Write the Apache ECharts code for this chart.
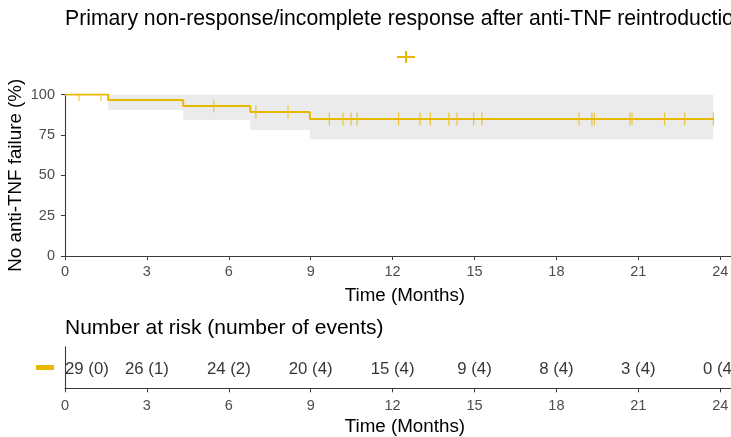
<!DOCTYPE html>
<html>
<head>
<meta charset="utf-8">
<title>Kaplan-Meier: anti-TNF reintroduction</title>
<script src="https://cdn.jsdelivr.net/npm/echarts@6/dist/echarts.min.js"></script>
<style>
  html, body { margin: 0; padding: 0; background: #ffffff; }
  #chart { width: 731px; height: 437px; }
</style>
</head>
<body>
<div id="chart"></div>
<script>
// Kaplan-Meier estimate (percent without anti-TNF failure) at each step
const kmTime = [0, 1.58, 4.33, 6.79, 8.97, 23.75];
const kmSurv = [100, 96.55, 92.84, 89.13, 84.88, 84.88];

// 95% confidence band, one rectangle per step interval
const bandStart = [1.58, 4.33, 6.79, 8.97];
const bandEnd = [4.33, 6.79, 8.97, 23.75];
const bandLower = [90.4, 84.2, 78.0, 72.3];
const bandUpper = [100, 100, 100, 100];

// Censored observations (time in months, curve level at that time)
const censorTime = [0.51, 1.32, 5.45, 6.99, 8.17, 9.68, 10.18, 10.48, 10.70,
  12.22, 13.01, 13.38, 14.06, 14.36, 14.97, 15.27, 18.83, 19.30, 19.39,
  20.69, 20.77, 21.96, 22.70, 23.75];
const censorSurv = [100, 100, 92.84, 89.13, 89.13, 84.88, 84.88, 84.88, 84.88,
  84.88, 84.88, 84.88, 84.88, 84.88, 84.88, 84.88, 84.88, 84.88, 84.88,
  84.88, 84.88, 84.88, 84.88, 84.88];

// Number at risk table
const riskTime = [0, 3, 6, 9, 12, 15, 18, 21, 24];
const riskN = [29, 26, 24, 20, 15, 9, 8, 3, 0];
const riskEvents = [0, 1, 2, 4, 4, 4, 4, 4, 4];

const yTicks = [0, 25, 50, 75, 100];
const strataName = 'All';

const COLOR = '#E7B800';
const AXIS = '#3a3a3a';
const TICKLAB = '#4D4D4D';
const FONT = '"Liberation Sans", Arial, sans-serif';

const PX_PER_MONTH = 27.3;
const X_MAX = 24.9;

const chart = echarts.init(document.getElementById('chart'), null, { renderer: 'canvas' });

function timeAxis(gridIndex, labelMargin, nameGap) {
  return {
    gridIndex: gridIndex,
    type: 'value', min: 0, max: X_MAX, interval: 3,
    axisLine: { show: true, lineStyle: { color: AXIS, width: 1.1 } },
    axisTick: { show: true, length: 4, lineStyle: { color: AXIS } },
    splitLine: { show: false },
    axisLabel: {
      color: TICKLAB, fontSize: 14.5, fontFamily: FONT, margin: labelMargin,
      formatter: v => (v % 3 === 0 ? String(v) : '')
    },
    name: 'Time (Months)', nameLocation: 'middle', nameGap: nameGap,
    nameMoveOverlap: false,
    nameTextStyle: { color: '#000', fontSize: 18.8, fontFamily: FONT }
  };
}

const option = {
  animation: false,
  backgroundColor: '#ffffff',
  title: [
    {
      text: 'Primary non-response/incomplete response after anti-TNF reintroduction',
      left: 65, top: 9, padding: 0,
      textStyle: { color: '#000', fontSize: 21.2, fontWeight: 'normal', fontFamily: FONT }
    },
    {
      text: 'Number at risk (number of events)',
      left: 65, top: 318, padding: 0,
      textStyle: { color: '#000', fontSize: 21, fontWeight: 'normal', fontFamily: FONT }
    }
  ],
  legend: {
    show: true, left: 397, top: 51, padding: 0,
    itemWidth: 18, itemHeight: 12, itemGap: 0,
    icon: 'path://M0,5H18V7H0Z M8,0H10V12H8Z',
    formatter: () => '',
    textStyle: { fontSize: 1 },
    data: [strataName],
    selectedMode: false
  },
  grid: [
    { left: 65, top: 94.5, width: X_MAX * PX_PER_MONTH, height: 161.5, outerBoundsMode: 'none', containLabel: false },
    { left: 65, top: 346.7, width: X_MAX * PX_PER_MONTH, height: 41.6, outerBoundsMode: 'none', containLabel: false }
  ],
  xAxis: [
    timeAxis(0, 8, 30),
    timeAxis(1, 10, 29)
  ],
  yAxis: [
    {
      gridIndex: 0, type: 'value', min: 0, max: 100, interval: 25,
      axisLine: { show: true, lineStyle: { color: AXIS, width: 1.1 } },
      axisTick: { show: true, length: 4, lineStyle: { color: AXIS } },
      splitLine: { show: false },
      axisLabel: {
        color: TICKLAB, fontSize: 14.5, fontFamily: FONT, margin: 10,
        formatter: v => (yTicks.includes(v) ? String(v) : '')
      },
      name: 'No anti-TNF failure (%)', nameLocation: 'middle', nameGap: 40,
      nameMoveOverlap: false,
      nameTextStyle: { color: '#000', fontSize: 18.8, fontFamily: FONT }
    },
    {
      gridIndex: 1, type: 'category', data: [strataName],
      axisLine: { show: true, lineStyle: { color: AXIS, width: 1.1 } },
      axisTick: { show: false },
      axisLabel: {
        margin: 11,
        formatter: () => '{bar|}',
        rich: { bar: { backgroundColor: COLOR, width: 18, height: 5 } }
      }
    }
  ],
  series: [
    {
      // confidence band
      type: 'custom', xAxisIndex: 0, yAxisIndex: 0, clip: true, silent: true,
      encode: { x: [0, 1], y: [2, 3] },
      data: bandStart.map((s, i) => [s, bandEnd[i], bandLower[i], bandUpper[i]]),
      renderItem: (params, api) => {
        const p0 = api.coord([api.value(0), api.value(3)]);
        const p1 = api.coord([api.value(1), api.value(2)]);
        return {
          type: 'rect',
          shape: { x: p0[0], y: p0[1], width: p1[0] - p0[0], height: p1[1] - p0[1] },
          style: { fill: '#EBEBEB' }
        };
      },
      z: 1
    },
    {
      name: strataName,
      type: 'line', xAxisIndex: 0, yAxisIndex: 0,
      step: 'end', showSymbol: false, symbol: 'none',
      data: kmTime.map((t, i) => [t, kmSurv[i]]),
      lineStyle: { color: COLOR, width: 2 },
      itemStyle: { color: COLOR },
      z: 3
    },
    {
      // censor marks
      type: 'custom', xAxisIndex: 0, yAxisIndex: 0, clip: true, silent: true,
      data: censorTime.map((t, i) => [t, censorSurv[i]]),
      renderItem: (params, api) => {
        const p = api.coord([api.value(0), api.value(1)]);
        return {
          type: 'line',
          shape: { x1: p[0], y1: p[1] - 6.5, x2: p[0], y2: p[1] + 6.5 },
          style: { stroke: COLOR, lineWidth: 1.2, opacity: 0.75 }
        };
      },
      z: 4
    },
    {
      // number at risk (events)
      type: 'scatter', xAxisIndex: 1, yAxisIndex: 1, symbolSize: 0, silent: true,
      data: riskTime.map((t, i) => {
        const item = { value: [t, strataName] };
        if (i === 0) item.label = { position: 'right', distance: 0 };
        return item;
      }),
      label: {
        show: true, position: 'inside', offset: [0, 1.5],
        color: '#000', fontSize: 16.8, fontFamily: FONT,
        formatter: p => riskN[p.dataIndex] + ' (' + riskEvents[p.dataIndex] + ')'
      }
    }
  ]
};

chart.setOption(option);
</script>
</body>
</html>
